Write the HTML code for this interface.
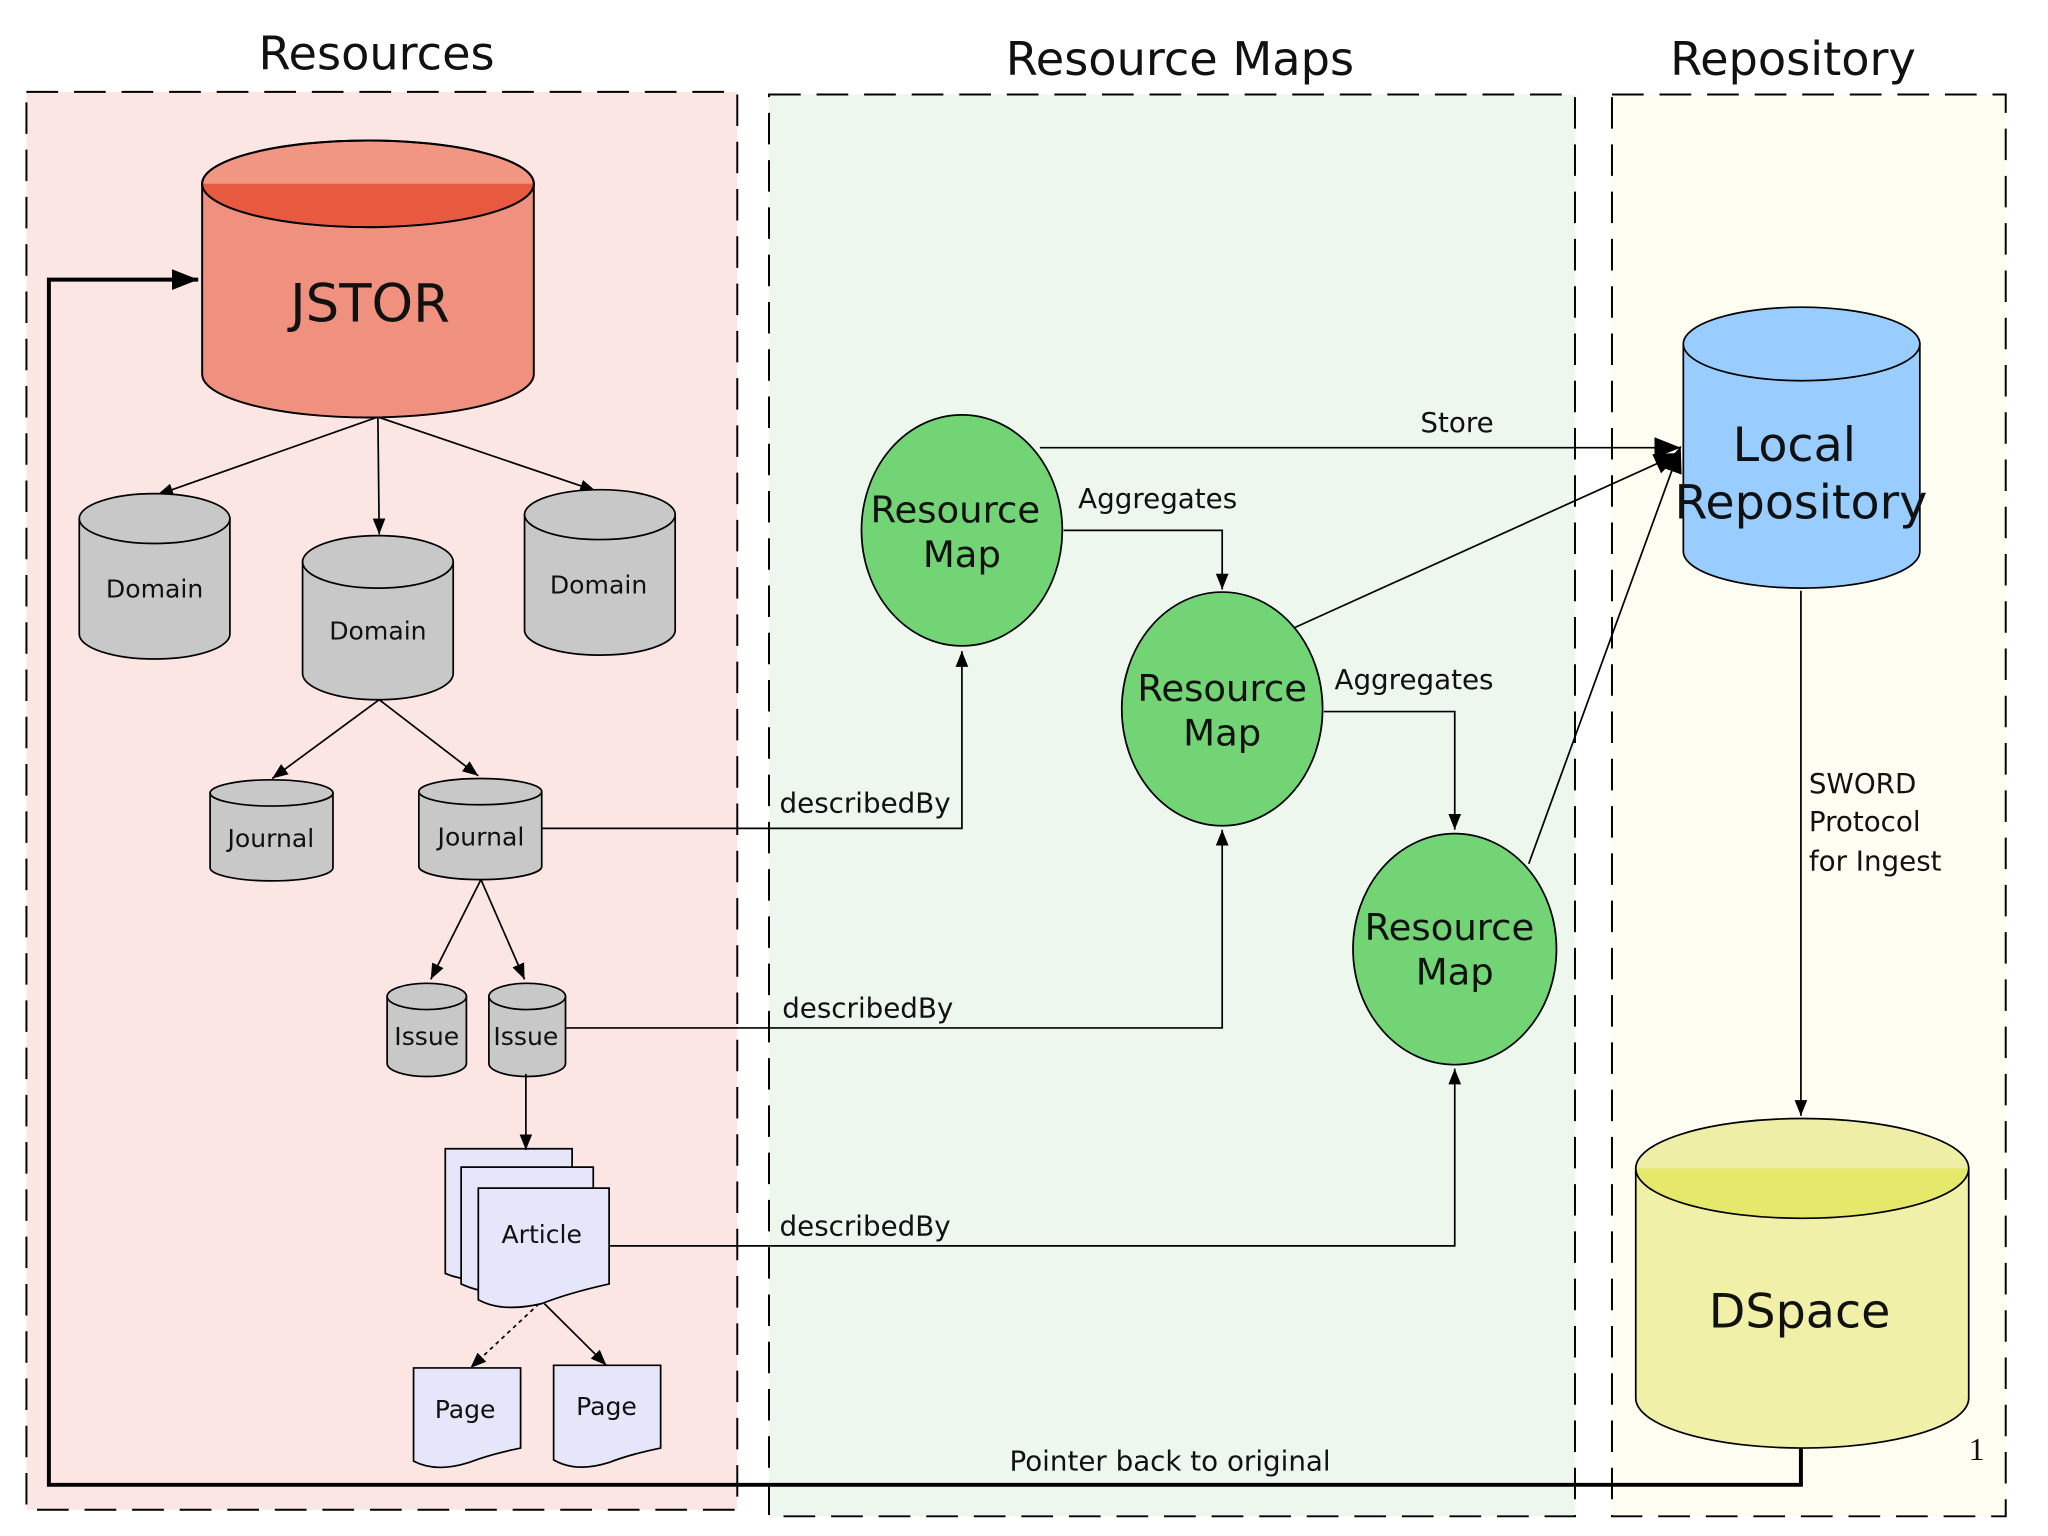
<!DOCTYPE html>
<html><head><meta charset="utf-8"><style>
html,body{margin:0;padding:0;background:#fff;}
svg{display:block;}
text{font-family:"DejaVu Sans","Liberation Sans",sans-serif;fill:#111;}
</style></head><body>
<svg width="2048" height="1536" viewBox="0 0 1550 1170" preserveAspectRatio="none" xmlns="http://www.w3.org/2000/svg">
<defs>
<marker id="b" viewBox="0 0 10 10" refX="10" refY="5" markerWidth="12" markerHeight="12" orient="auto" markerUnits="userSpaceOnUse"><path d="M0,1 L10,5 L0,9 z" fill="#000"/></marker>
<marker id="c" viewBox="0 0 10 10" refX="10" refY="5" markerWidth="20" markerHeight="20" orient="auto" markerUnits="userSpaceOnUse"><path d="M0,1 L10,5 L0,9 z" fill="#000"/></marker>
</defs>
<rect width="1550" height="1170" fill="#fff"/>
<rect x="20" y="70" width="538" height="1080" fill="#fce6e4" stroke="#000" stroke-width="1.5" stroke-dasharray="24,12"/>
<rect x="582" y="72" width="610" height="1083" fill="#edf7ee" stroke="#000" stroke-width="1.5" stroke-dasharray="24,12"/>
<rect x="1220" y="72" width="298" height="1083" fill="#fdfdf1" stroke="#000" stroke-width="1.5" stroke-dasharray="24,12"/>
<text x="285" y="53" font-size="35" text-anchor="middle">Resources</text>
<text x="893" y="57" font-size="35" text-anchor="middle">Resource Maps</text>
<text x="1357" y="57" font-size="35" text-anchor="middle">Repository</text>

<path d="M153,140 L153,285 A125.5,33 0 0 0 404,285 L404,140 Z" fill="#f0907e" stroke="#000" stroke-width="1.5"/>
<ellipse cx="278.5" cy="140" rx="125.5" ry="33" fill="#f09682" stroke="#000" stroke-width="1.5"/>
<path d="M153,140 A125.5,33 0 0 0 404,140 Z" fill="#e85a40"/>
<ellipse cx="278.5" cy="140" rx="125.5" ry="33" fill="none" stroke="#000" stroke-width="1.5"/>
<text x="280" y="245" font-size="40" text-anchor="middle">JSTOR</text>

<g stroke="#000" stroke-width="1.3" fill="none">
<line x1="285" y1="318" x2="119" y2="377" marker-end="url(#b)"/>
<line x1="286" y1="318" x2="287" y2="407" marker-end="url(#b)"/>
<line x1="287" y1="318" x2="451" y2="374" marker-end="url(#b)"/>
<line x1="287" y1="533" x2="206" y2="593" marker-end="url(#b)"/>
<line x1="287" y1="533" x2="362" y2="591" marker-end="url(#b)"/>
<line x1="364" y1="670" x2="326" y2="746" marker-end="url(#b)"/>
<line x1="364" y1="670" x2="397" y2="746" marker-end="url(#b)"/>
<line x1="408" y1="993" x2="356" y2="1042" stroke-dasharray="3,3" marker-end="url(#b)"/>
<line x1="412" y1="993" x2="459" y2="1040" marker-end="url(#b)"/>
</g>

<g stroke="#000" stroke-width="1.3" fill="#c8c8c8">
<path d="M60,395 L60,483 A57,19 0 0 0 174,483 L174,395 Z"/><ellipse cx="117" cy="395" rx="57" ry="19"/>
<path d="M229,428 L229,513 A57,20 0 0 0 343,513 L343,428 Z"/><ellipse cx="286" cy="428" rx="57" ry="20"/>
<path d="M397,392 L397,480 A57,19 0 0 0 511,480 L511,392 Z"/><ellipse cx="454" cy="392" rx="57" ry="19"/>
<path d="M159,604 L159,661 A46.5,10 0 0 0 252,661 L252,604 Z"/><ellipse cx="205.5" cy="604" rx="46.5" ry="10"/>
<path d="M317,603 L317,660 A46.5,10 0 0 0 410,660 L410,603 Z"/><ellipse cx="363.5" cy="603" rx="46.5" ry="10"/>
<path d="M293,759 L293,810 A30,10 0 0 0 353,810 L353,759 Z"/><ellipse cx="323" cy="759" rx="30" ry="10"/>
<path d="M370,759 L370,810 A29,10 0 0 0 428,810 L428,759 Z"/><ellipse cx="399" cy="759" rx="29" ry="10"/>
</g>
<g font-size="19" text-anchor="middle">
<text x="117" y="455">Domain</text>
<text x="286" y="487">Domain</text>
<text x="453" y="452">Domain</text>
<text x="205" y="645">Journal</text>
<text x="364" y="644">Journal</text>
<text x="323" y="796">Issue</text>
<text x="398" y="796">Issue</text>
</g>

<g stroke="#000" stroke-width="1.3" fill="#e6e6fa">
<path d="M337,875 L433,875 L433,955 Q400,965 380,972 Q355,978 337,970 Z"/>
<path d="M349,889 L449,889 L449,965 Q415,975 395,982 Q370,988 349,978 Z"/>
<path d="M362,905 L461,905 L461,978 Q430,985 410,993 Q380,1000 362,990 Z"/>
<path d="M313,1042 L394,1042 L394,1103 Q370,1108 355,1114 Q330,1122 313,1113 Z"/>
<path d="M419,1040 L500,1040 L500,1103 Q476,1108 461,1114 Q436,1122 419,1112 Z"/>
</g>
<line x1="398" y1="818" x2="398" y2="876" stroke="#000" stroke-width="1.3" marker-end="url(#b)"/>
<g font-size="19" text-anchor="middle">
<text x="410" y="947">Article</text>
<text x="352" y="1080">Page</text>
<text x="459" y="1078">Page</text>
</g>

<g stroke="#000" stroke-width="1.3" fill="none">
<polyline points="410,631 728,631 728,496" marker-end="url(#b)"/>
<polyline points="428,783 925,783 925,632" marker-end="url(#b)"/>
<polyline points="461,949 1101,949 1101,814" marker-end="url(#b)"/>
<polyline points="787,341 1272,341" marker-end="url(#c)"/>
<polyline points="805,404 925,404 925,449" marker-end="url(#b)"/>
<polyline points="1002,542 1101,542 1101,632" marker-end="url(#b)"/>
<line x1="980" y1="478" x2="1272" y2="345" marker-end="url(#c)"/>
<line x1="1157" y1="658" x2="1272" y2="340" marker-end="url(#c)"/>
<line x1="1363" y1="450" x2="1363" y2="850" marker-end="url(#b)"/>
</g>
<polyline points="1363,1102 1363,1131 37,1131 37,213 150,213" stroke="#000" stroke-width="3" fill="none" marker-end="url(#c)"/>

<g stroke="#000" stroke-width="1.3" fill="#72d474">
<ellipse cx="728" cy="404" rx="76" ry="88"/>
<ellipse cx="925" cy="540" rx="76" ry="89"/>
<ellipse cx="1101" cy="723" rx="77" ry="88"/>
</g>
<g font-size="28" text-anchor="middle">
<text x="723" y="398">Resource</text><text x="728" y="432">Map</text>
<text x="925" y="534">Resource</text><text x="925" y="568">Map</text>
<text x="1097" y="716">Resource</text><text x="1101" y="750">Map</text>
</g>

<g font-size="21">
<text x="1075" y="329">Store</text>
<text x="816" y="387">Aggregates</text>
<text x="1010" y="525">Aggregates</text>
<text x="590" y="619">describedBy</text>
<text x="592" y="775">describedBy</text>
<text x="590" y="941">describedBy</text>
<text x="1369" y="604">SWORD</text>
<text x="1369" y="633">Protocol</text>
<text x="1369" y="663">for Ingest</text>
<text x="764" y="1120">Pointer back to original</text>
</g>
<text x="1490" y="1112" font-size="24" style="font-family:'Liberation Serif',serif">1</text>

<path d="M1274,262 L1274,420 A89.5,28 0 0 0 1453,420 L1453,262 Z" fill="#99ccff" stroke="#000" stroke-width="1.3"/>
<ellipse cx="1363.5" cy="262" rx="89.5" ry="28" fill="#99ccff" stroke="#000" stroke-width="1.3"/>
<text x="1358" y="351" font-size="36" text-anchor="middle">Local</text>
<text x="1363" y="395" font-size="36" text-anchor="middle">Repository</text>

<path d="M1238,890 L1238,1065 A126,38 0 0 0 1490,1065 L1490,890 Z" fill="#f0f0a8" stroke="#000" stroke-width="1.3"/>
<ellipse cx="1364" cy="890" rx="126" ry="38" fill="#eeeea6"/>
<path d="M1238,890 A126,38 0 0 0 1490,890 Z" fill="#e6e86c"/>
<ellipse cx="1364" cy="890" rx="126" ry="38" fill="none" stroke="#000" stroke-width="1.3"/>
<text x="1362" y="1011" font-size="36" text-anchor="middle">DSpace</text>
</svg>
</body></html>
